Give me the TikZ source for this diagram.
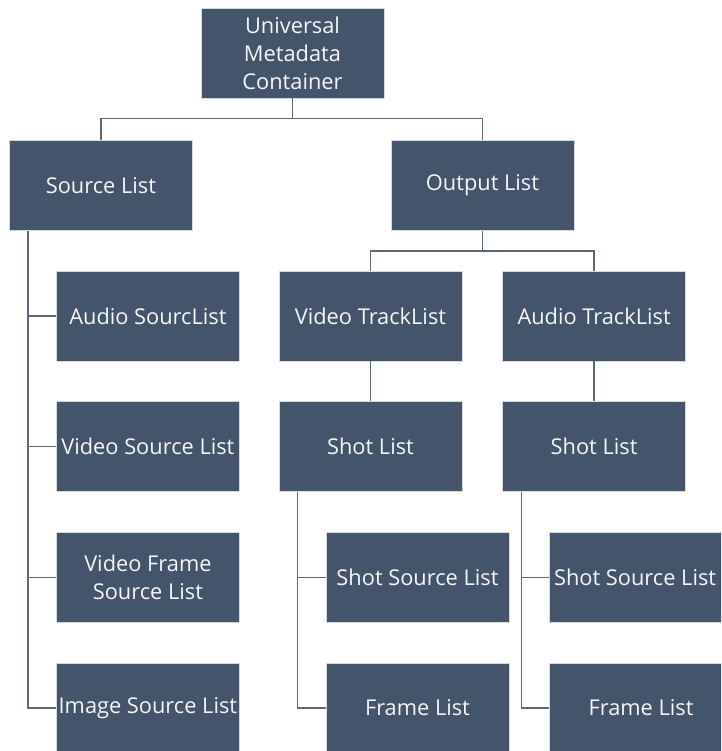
\documentclass[tikz,border=0pt]{standalone}
\usepackage{fontspec}
\setmainfont{Open Sans}
\usepackage{tikz}
\usetikzlibrary{positioning}
\usepackage{xcolor}
\definecolor{SlateBlue}{HTML}{44546A}
\definecolor{LinkGray}{HTML}{5E687C}
\definecolor{EdgeGray}{HTML}{D6D9DE}
\definecolor{PaperWhite}{HTML}{F4F5F7}
\tikzset{%
  list_block/.style={%
    rectangle,%
    fill=SlateBlue,%
    draw=EdgeGray,%
    line width=0.6pt,%
    minimum width=183pt,%
    minimum height=90pt,%
    inner sep=0pt,%
    text=PaperWhite,%
    font={\fontsize{21.8}{28}\selectfont},%
    align=center%
  },
  tree_path/.style={%
    color=LinkGray,%
    line width=1.4pt,%
    line join=miter,%
  },
}
\begin{document}
\begin{tikzpicture}[x=1pt, y=1pt]

    \useasboundingbox (0,0) rectangle (721,751);
    \clip (0,0) rectangle (721,751);

    \node [list_block] (Container) at (292.5,698) {%
      Universal\\Metadata\\Container%
    };
    \node [list_block, below = 42pt of Container, xshift=190pt] (OutputList) {%
      Output List%
    };
    \node [list_block, left = 198pt of OutputList] (SourceList) {%
      Source List%
    };

    % source side
    \node [list_block, below = 40pt of SourceList, xshift=47pt] (AudioSrc) {%
      Audio SourcList%
    };
    \node [list_block, below = 40pt of AudioSrc] (VideoSrc) {%
      Video Source List%
    };
    \node [list_block, below = 40pt of VideoSrc] (FrameSrc) {%
      Video Frame\\Source List%
    };
    \node [list_block, below = 40pt of FrameSrc] (ImageSrc) {%
      Image Source List%
    };

    % output side
    \node [list_block, below = 40pt of OutputList, xshift=-112pt] (VideoTrack) {%
      Video TrackList%
    };
    \node [list_block, right = 40pt of VideoTrack] (AudioTrack) {%
      Audio TrackList%
    };
    \node [list_block, below = 40pt of VideoTrack] (VideoShot) {%
      Shot List%
    };
    \node [list_block, below = 40pt of AudioTrack] (AudioShot) {%
      Shot List%
    };
    \node [list_block, below = 40pt of VideoShot, xshift=47pt] (VideoShotSrc) {%
      Shot Source List%
    };
    \node [list_block, below = 40pt of VideoShotSrc] (VideoFrames) {%
      Frame List%
    };
    \node [list_block, below = 40pt of AudioShot, xshift=47pt] (AudioShotSrc) {%
      \hspace*{-12pt}Shot Source List%
    };
    \node [list_block, below = 40pt of AudioShotSrc] (AudioFrames) {%
      Frame List%
    };

    \draw [tree_path]
      (Container.south) -- ++(0,-20) -| (SourceList.north);
    \draw [tree_path]
      (Container.south) -- ++(0,-20) -| (OutputList.north);
    \draw [tree_path]
      (OutputList.south) -- ++(0,-20) -| (VideoTrack.north);
    \draw [tree_path]
      (OutputList.south) -- ++(0,-20) -| (AudioTrack.north);
    \draw [tree_path]
      (VideoTrack.south) -- (VideoShot.north);
    \draw [tree_path]
      (AudioTrack.south) -- (AudioShot.north);

    \foreach \child in {AudioSrc, VideoSrc, FrameSrc, ImageSrc}
      \draw [tree_path]
        ([xshift=19pt]SourceList.south west) |- (\child.west);
    \foreach \child in {VideoShotSrc, VideoFrames}
      \draw [tree_path]
        ([xshift=19pt]VideoShot.south west) |- (\child.west);
    \foreach \child in {AudioShotSrc, AudioFrames}
      \draw [tree_path]
        ([xshift=19pt]AudioShot.south west) |- (\child.west);
  \end{tikzpicture}
\end{document}
